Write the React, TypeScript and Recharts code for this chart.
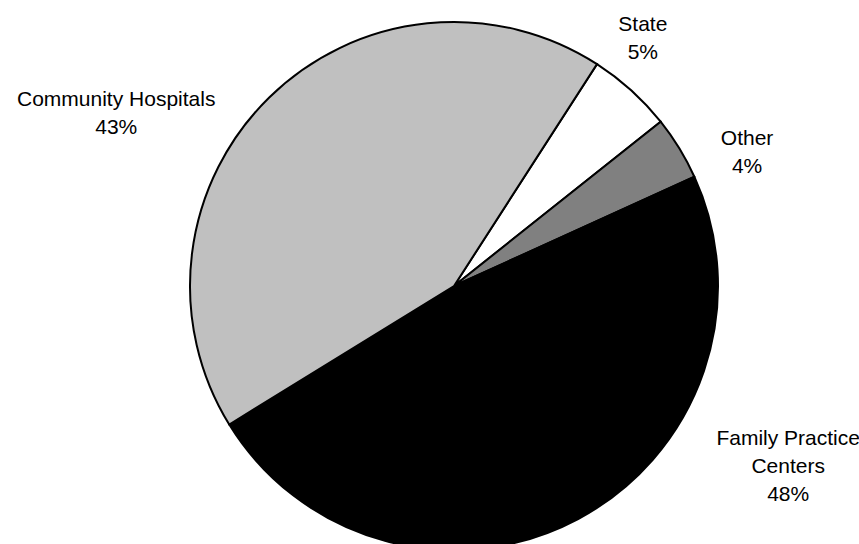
import React from "react";
import { PieChart, Pie, Cell } from "recharts";

// Data
const categories = ["State", "Other", "Family Practice\nCenters", "Community Hospitals"];
const shares = [5.2, 3.9, 48.0, 42.9];
const colors = ["#FFFFFF", "#808080", "#000000", "#C0C0C0"];

// Layout: label nudges relative to a point just outside each slice's mid-angle
const labelNudge: [number, number][] = [
  [-8.5, -30.5],
  [42.3, 18.6],
  [196, -79.6],
  [-132, 36.6],
];

const data = categories.map((name, i) => ({ name, value: shares[i] }));

const RAD = Math.PI / 180;
const FONT = 21;
const LINE = 28;

const renderLabel = (props: any) => {
  const { cx, cy, midAngle, outerRadius, index, percent } = props;
  const r = outerRadius + 30;
  const bx = cx + r * Math.cos(-midAngle * RAD);
  const by = cy + r * Math.sin(-midAngle * RAD);
  const [nx, ny] = labelNudge[index] || [0, 0];
  const x = bx + nx;
  const y = by + ny;
  const lines = [...String(categories[index]).split("\n"), `${Math.round(percent * 100)}%`];
  const firstBaseline = y - ((lines.length - 1) * LINE) / 2 + FONT * 0.36;
  return (
    <text
      x={x}
      y={firstBaseline}
      textAnchor="middle"
      fill="#000"
      fontFamily="'Liberation Sans', Arial, sans-serif"
      fontSize={FONT}
    >
      {lines.map((l, i) => (
        <tspan key={i} x={x} dy={i === 0 ? 0 : LINE}>
          {l}
        </tspan>
      ))}
    </text>
  );
};

export default function App() {
  return (
    <div style={{ position: "absolute", left: 0, top: 0, width: 859, height: 544, background: "#fff" }}>
      <PieChart width={859} height={544}>
        <Pie
          data={data}
          dataKey="value"
          nameKey="name"
          cx={449}
          cy={281}
          outerRadius={264}
          startAngle={57.2}
          endAngle={-302.8}
          stroke="#000"
          strokeWidth={2}
          label={renderLabel}
          labelLine={false}
          isAnimationActive={false}
        >
          {data.map((d, i) => (
            <Cell key={d.name} fill={colors[i]} />
          ))}
        </Pie>
      </PieChart>
    </div>
  );
}
